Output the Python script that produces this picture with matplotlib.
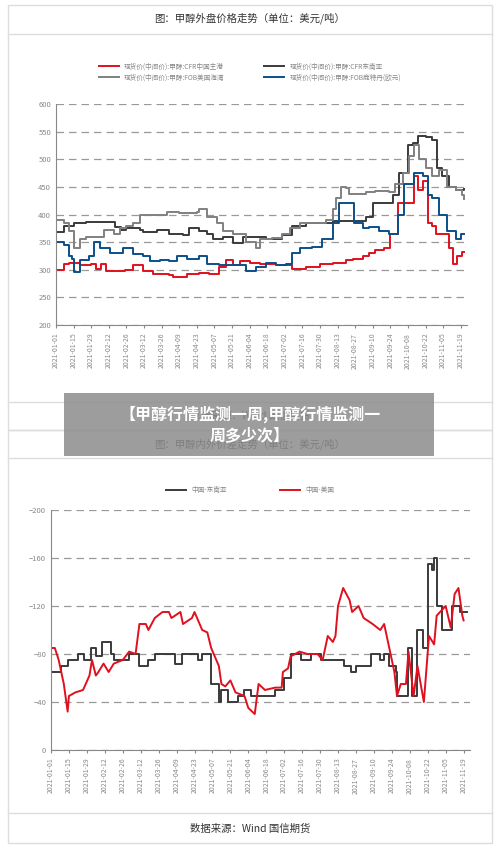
import matplotlib
matplotlib.use("Agg")
import matplotlib.pyplot as plt
from matplotlib.patches import Rectangle
import datetime as dt

plt.rcParams['font.family'] = ['Noto Sans CJK SC', 'DejaVu Sans']

tick_days = list(range(0, 323, 14))
start = dt.date(2021, 1, 1)
tick_labels = [(start + dt.timedelta(days=d)).strftime('%Y-%m-%d') for d in tick_days]

# Top chart series (day offset, USD/t)
red_d = [0,6,10,19,28,32,36,40,55,61,69,77,90,93,104,114,122,130,135,141,146,154,162,175,188,199,210,220,231,236,244,249,254,261,266,272,278,285,288,292,296,299,302,307,313,316,319,323,325]
red_v = [300,310,312,308,310,302,310,298,300,308,298,292,290,286,292,295,292,305,318,308,315,312,310,308,302,305,310,313,318,320,325,330,335,340,365,420,420,470,445,460,385,380,365,365,340,310,325,332,332]
blue_d = [0,6,10,13,14,19,26,30,35,43,53,61,69,75,83,90,96,104,114,120,130,141,151,159,167,175,183,188,194,204,212,220,225,232,237,244,249,257,265,272,277,285,292,296,299,305,311,318,322,325]
blue_v = [350,345,325,320,296,318,325,350,340,330,340,328,325,315,318,315,325,320,325,310,308,308,298,305,312,308,310,330,340,342,355,385,420,420,385,375,378,370,365,400,455,475,470,435,430,400,370,355,365,365]
dark_d = [0,6,14,24,47,52,56,67,69,80,90,101,106,114,120,125,133,141,149,162,167,180,188,199,220,241,247,252,262,268,273,280,284,288,294,299,303,307,313,318,325]
dark_v = [368,380,385,387,378,372,375,372,368,372,365,362,375,370,365,355,360,348,360,360,355,362,380,385,388,388,395,420,420,435,475,525,530,542,540,535,485,470,450,445,446]
gray_d = [0,6,10,14,19,24,30,38,46,51,56,61,67,77,88,98,112,114,120,128,133,141,151,159,162,172,180,186,194,204,215,220,223,227,231,233,247,254,265,270,276,281,285,289,294,299,305,311,318,323,325]
gray_v = [390,385,370,340,355,360,360,372,365,375,380,385,400,400,405,402,405,410,395,385,370,365,350,340,355,358,365,375,385,385,390,410,430,450,448,438,440,442,440,455,475,505,525,500,485,470,480,450,445,435,428]

# Bottom chart series (day offset, spread)
se_d = [0,6,8,13,21,26,31,35,40,47,49,61,69,76,81,94,97,102,115,118,125,131,133,138,146,151,156,162,175,182,187,195,203,211,216,229,234,238,242,250,257,260,264,269,270,277,279,282,286,290,294,297,299,301,305,310,313,319,325]
se_v = [-65,-65,-70,-75,-80,-75,-85,-78,-90,-80,-75,-80,-70,-75,-80,-80,-72,-80,-75,-80,-55,-40,-50,-40,-45,-50,-45,-45,-50,-60,-80,-75,-80,-75,-75,-70,-65,-70,-70,-80,-75,-80,-70,-65,-45,-45,-85,-45,-100,-85,-155,-150,-160,-120,-100,-100,-120,-115,-115]
us_d = [0,3,6,10,13,14,19,25,30,32,35,37,41,45,49,56,61,66,69,74,76,81,87,92,94,101,103,110,112,118,122,125,131,133,136,140,144,151,154,159,162,167,175,180,181,185,187,194,200,208,212,216,220,222,224,228,233,235,240,244,251,257,260,264,268,270,273,277,279,283,286,291,295,299,301,308,312,315,318,321,322]
us_v = [-85,-85,-75,-55,-32,-45,-48,-50,-62,-75,-62,-65,-72,-65,-72,-75,-82,-80,-105,-105,-100,-110,-115,-115,-110,-115,-105,-110,-115,-100,-98,-85,-70,-55,-53,-58,-48,-45,-35,-30,-55,-50,-52,-52,-65,-68,-78,-82,-80,-80,-75,-95,-90,-95,-120,-135,-125,-115,-120,-110,-105,-100,-105,-85,-65,-45,-55,-55,-82,-45,-70,-40,-95,-88,-112,-120,-102,-130,-135,-112,-108]

fig = plt.figure(figsize=(5, 8.49), dpi=100)
H = 849.0
def fy(y): return 1 - y / H
def fx(x): return x / 500.0

for (y0, y1) in [(5, 430), (430, 843)]:
    fig.patches.append(Rectangle((fx(8), fy(y1)), fx(484), (y1 - y0) / H, transform=fig.transFigure,
                                 fill=False, edgecolor='#dddddd', lw=1))
for y in [34, 402, 458, 813]:
    fig.add_artist(plt.Line2D([fx(8), fx(492)], [fy(y), fy(y)], transform=fig.transFigure, color='#dddddd', lw=1))

fig.text(0.5, fy(18), '图：甲醇外盘价格走势（单位：美元/吨）', ha='center', va='center', fontsize=7.5, color='#333333')
fig.text(0.5, fy(416), '数据来源：Wind 国信期货', ha='center', va='center', fontsize=7.5, color='#333333')
fig.text(0.5, fy(444), '图：甲醇内外价差走势（单位：美元/吨）', ha='center', va='center', fontsize=7.5, color='#333333')
fig.text(0.5, fy(829), '数据来源：Wind 国信期货', ha='center', va='center', fontsize=7.5, color='#333333')

def style(ax, ticks):
    for s in ['top', 'right']:
        ax.spines[s].set_visible(False)
    for s in ['left', 'bottom']:
        ax.spines[s].set_color('#888888')
    ax.set_yticks(ticks)
    ax.yaxis.grid(True, linestyle=(0, (6, 4)), color='#999999', lw=0.9)
    ax.set_axisbelow(True)
    ax.set_xticks(tick_days)
    ax.set_xticklabels(tick_labels, rotation=90, fontsize=5, color='#888888')
    ax.tick_params(axis='y', labelsize=5.5, colors='#888888', length=0)
    ax.tick_params(axis='x', length=2, colors='#888888')

ax1 = fig.add_axes([0.112, fy(325), 0.822, (325 - 104) / H])
l_red, = ax1.plot(red_d, red_v, color='#e0101e', lw=1.4, drawstyle='steps-post', label='现货价(中间价):甲醇:CFR中国主港')
l_dark, = ax1.plot(dark_d, dark_v, color='#3a3a3a', lw=1.4, drawstyle='steps-post', label='现货价(中间价):甲醇:CFR东南亚')
l_gray, = ax1.plot(gray_d, gray_v, color='#808080', lw=1.4, drawstyle='steps-post', label='现货价(中间价):甲醇:FOB美国海湾')
l_blue, = ax1.plot(blue_d, blue_v, color='#0b4f8a', lw=1.4, drawstyle='steps-post', label='现货价(中间价):甲醇:FOB鹿特丹(欧元)')
ax1.set_xlim(0, 327)
ax1.set_ylim(200, 600)
style(ax1, [200, 250, 300, 350, 400, 450, 500, 550, 600])
hs = [l_red, l_gray, l_dark, l_blue]
fig.legend(hs, [h.get_label() for h in hs], ncol=2, loc='center', bbox_to_anchor=(0.5, fy(72)), frameon=False,
           fontsize=4.8, handlelength=3, columnspacing=6, labelcolor='#888888', borderaxespad=0)

ax2 = fig.add_axes([0.102, fy(750), 0.838, (750 - 510) / H])
ax2.plot(se_d, se_v, color='#3a3a3a', lw=1.4, drawstyle='steps-post', label='中国-东南亚')
ax2.plot(us_d, us_v, color='#e0101e', lw=1.4, label='中国-美国')
ax2.set_xlim(0, 327)
ax2.set_ylim(0, -200)
style(ax2, [0, -40, -80, -120, -160, -200])
h, l = ax2.get_legend_handles_labels()
fig.legend(h, l, ncol=2, loc='center', bbox_to_anchor=(0.5, fy(490)), frameon=False,
           fontsize=4.8, handlelength=3, columnspacing=8, labelcolor='#888888')

fig.patches.append(Rectangle((fx(64), fy(456)), fx(370), 63 / H, transform=fig.transFigure,
                             facecolor='#8c8c8c', alpha=0.85, edgecolor='none', zorder=10))
fig.text(0.5, fy(424), '【甲醇行情监测一周,甲醇行情监测一\n周多少次】', ha='center', va='center', fontsize=11.5,
         fontweight='bold', color='white', zorder=11, linespacing=1.3)

fig.savefig('out.png', dpi=100, facecolor='white')
